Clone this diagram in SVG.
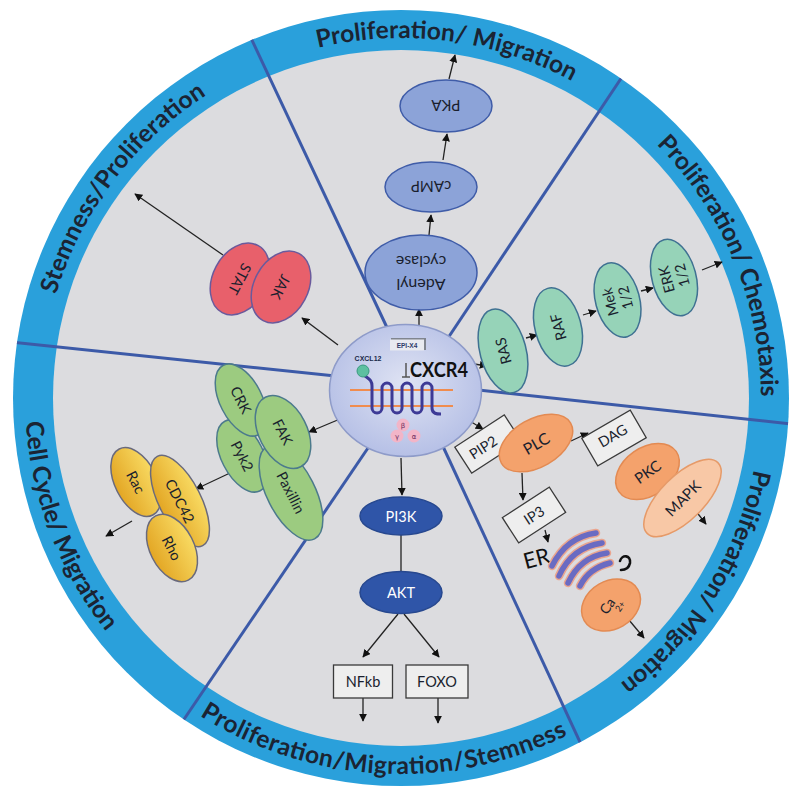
<svg xmlns="http://www.w3.org/2000/svg" width="800" height="794" viewBox="0 0 800 794">
<defs>
  <style>
    .ring-txt { font-family: Lato, "Open Sans", sans-serif; font-weight: 700; font-size: 24.5px; fill: #1b2433; }
    .lbl { font-family: Lato, "Open Sans", sans-serif; font-size: 14.5px; fill: #1a1f2e; text-anchor: middle; dominant-baseline: central; }
    .wl { fill: #ffffff; }
    .div { stroke: #3c5aa8; stroke-width: 3; fill: none; }
    .arr { stroke: #222; stroke-width: 1.3; fill: none; marker-end: url(#ah); }
    .ln { stroke: #222; stroke-width: 1.3; fill: none; }
    .blue { fill: #8ca3d8; stroke: #3f5ca8; stroke-width: 1.5; }
    .mint { fill: #96d3b8; stroke: #3f7192; stroke-width: 1.5; }
    .red { fill: #e8606b; stroke: #6a5a9c; stroke-width: 1.5; }
    .green { fill: #9ccb80; stroke: #4c7a8c; stroke-width: 1.5; }
    .yellow { fill: url(#yg); stroke: #6a6a7c; stroke-width: 1.5; }
    .navy { fill: #2f55a8; stroke: #27488f; stroke-width: 1.5; }
    .orange { fill: #f4a26c; stroke: #e38a52; stroke-width: 1.5; }
    .lorange { fill: #f8c8a6; stroke: #e69a68; stroke-width: 1.5; }
    .box { fill: #eeeeee; stroke: #3a3a3a; stroke-width: 1.3; }
    .er { fill: none; stroke: #6a6bc2; stroke-width: 5.5; stroke-linecap: round; }
    .erh { fill: none; stroke: #eaa58f; stroke-width: 8.5; stroke-linecap: round; }
  </style>
  <marker id="ah" viewBox="0 0 10 10" refX="9" refY="5" markerWidth="8" markerHeight="8" markerUnits="userSpaceOnUse" orient="auto">
    <path d="M0,0 L10,5 L0,10 z" fill="#111"/>
  </marker>
  <linearGradient id="yg" x1="0" y1="0" x2="0" y2="1">
    <stop offset="0" stop-color="#f8da62"/>
    <stop offset="1" stop-color="#e3a624"/>
  </linearGradient>
  <radialGradient id="cg" cx="0.5" cy="0.45" r="0.55">
    <stop offset="0" stop-color="#dfe3f3"/>
    <stop offset="1" stop-color="#b6c0e6"/>
  </radialGradient>
  <clipPath id="outer"><circle cx="401" cy="398" r="388"/></clipPath>
  <path id="p-top" d="M81.7,231.8 A360,360 0 0 1 752.5,320.1"/>
  <path id="p-ur" d="M385.3,38.3 A360,360 0 0 1 644.2,663.4"/>
  <path id="p-lr" d="M684.7,176.3 A360,360 0 0 1 326.2,750.1"/>
  <path id="p-ul" d="M99.1,594.1 A360,360 0 0 1 506.3,53.7"/>
  <path id="p-bot" d="M41.4,507.9 A376,376 0 0 0 747.1,544.9"/>
  <path id="p-ll" d="M154.3,114.2 A376,376 0 0 0 407.6,773.9"/>
</defs>

<g id="background">
  <circle cx="401" cy="398" r="388" fill="#2aa0db"/>
  <circle cx="401" cy="398" r="348" fill="#dcdcdf"/>
</g>

<g id="dividers" clip-path="url(#outer)">
  <line class="div" x1="235" y1="4" x2="390.5" y2="335"/>
  <line class="div" x1="642" y1="47" x2="445" y2="342.5"/>
  <line class="div" x1="810" y1="426" x2="465" y2="388.5"/>
  <line class="div" x1="592" y1="768" x2="440" y2="440"/>
  <line class="div" x1="172" y1="737" x2="370" y2="445"/>
  <line class="div" x1="0" y1="341" x2="345" y2="377"/>
</g>

<g id="ring-labels">
  <text class="ring-txt"><textPath href="#p-top" startOffset="50%" text-anchor="middle" textLength="262">Proliferation/ Migration</textPath></text>
  <text class="ring-txt"><textPath href="#p-ur" startOffset="50%" text-anchor="middle" textLength="280">Proliferation/ Chemotaxis</textPath></text>
  <text class="ring-txt"><textPath href="#p-lr" startOffset="50%" text-anchor="middle" textLength="258">Proliferation/ Migration</textPath></text>
  <text class="ring-txt"><textPath href="#p-ul" startOffset="50%" text-anchor="middle" textLength="255">Stemness/Proliferation</textPath></text>
  <text class="ring-txt"><textPath href="#p-bot" startOffset="50%" text-anchor="middle" textLength="385">Proliferation/Migration/Stemness</textPath></text>
  <text class="ring-txt"><textPath href="#p-ll" startOffset="50%" text-anchor="middle" textLength="228">Cell Cycle/ Migration</textPath></text>
</g>

<g id="connectors">
  <line class="arr" x1="419" y1="326" x2="419" y2="309"/>
  <line class="arr" x1="429" y1="235" x2="431" y2="215"/>
  <line class="arr" x1="443" y1="160" x2="447" y2="134"/>
  <line class="arr" x1="449" y1="79" x2="455" y2="55"/>
  <line class="arr" x1="474" y1="364" x2="487" y2="366"/>
  <line class="arr" x1="526" y1="338" x2="537" y2="335"/>
  <line class="arr" x1="583" y1="315" x2="596" y2="311"/>
  <line class="arr" x1="641" y1="291" x2="653" y2="288"/>
  <line class="arr" x1="702" y1="270" x2="722" y2="262"/>
  <line class="arr" x1="338" y1="345" x2="302" y2="318"/>
  <line class="arr" x1="223" y1="255" x2="135" y2="194"/>
  <line class="arr" x1="340" y1="419" x2="309" y2="432"/>
  <line class="arr" x1="230" y1="473" x2="196" y2="489"/>
  <line class="arr" x1="132" y1="521" x2="106" y2="536"/>
  <line class="arr" x1="401" y1="458" x2="402" y2="495"/>
  <line class="ln" x1="401" y1="535" x2="401" y2="572"/>
  <line class="arr" x1="398" y1="614" x2="363" y2="657"/>
  <line class="arr" x1="404" y1="614" x2="439" y2="657"/>
  <line class="arr" x1="363" y1="698" x2="363" y2="721"/>
  <line class="arr" x1="438" y1="698" x2="438" y2="723"/>
  <line class="arr" x1="468" y1="420" x2="483" y2="429"/>
  <line class="arr" x1="571" y1="441" x2="588" y2="433"/>
  <line class="arr" x1="627" y1="457" x2="637" y2="467"/>
  <line class="arr" x1="662" y1="482" x2="674" y2="494"/>
  <line class="arr" x1="695" y1="510" x2="706" y2="524"/>
  <line class="arr" x1="522" y1="473" x2="523" y2="500"/>
  <line class="arr" x1="545" y1="530" x2="548" y2="542"/>
  <line class="arr" x1="629" y1="620" x2="644" y2="638"/>
</g>

<g id="adenyl-cyclase" transform="translate(421,272.5) rotate(180)">
  <ellipse class="blue" rx="56" ry="37.5"/>
  <text class="lbl" style="font-size:16px" y="-13">Adenyl</text>
  <text class="lbl" style="font-size:16px" y="10">cyclase</text>
</g>
<g id="camp" transform="translate(431,187) rotate(180)">
  <ellipse class="blue" rx="46" ry="25"/>
  <text class="lbl" style="font-size:15px">cAMP</text>
</g>
<g id="pka" transform="translate(446,106) rotate(180)">
  <ellipse class="blue" rx="46" ry="26"/>
  <text class="lbl" style="font-size:15px">PKA</text>
</g>

<g id="ras" transform="translate(503,351) rotate(-105)">
  <ellipse class="mint" rx="43" ry="23"/>
  <text class="lbl">RAS</text>
</g>
<g id="raf" transform="translate(558,327) rotate(-105)">
  <ellipse class="mint" rx="40" ry="23"/>
  <text class="lbl">RAF</text>
</g>
<g id="mek" transform="translate(617.5,300) rotate(-105)">
  <ellipse class="mint" rx="38" ry="22"/>
  <text class="lbl" y="-8">Mek</text>
  <text class="lbl" y="8">1/2</text>
</g>
<g id="erk" transform="translate(674,277.5) rotate(-105)">
  <ellipse class="mint" rx="39" ry="22"/>
  <text class="lbl" y="-8">ERK</text>
  <text class="lbl" y="8">1/2</text>
</g>

<g id="stat" transform="translate(240,279) rotate(118)">
  <ellipse class="red" rx="38" ry="27"/>
  <text class="lbl">STAT</text>
</g>
<g id="jak" transform="translate(281,287) rotate(118)">
  <ellipse class="red" rx="38" ry="27"/>
  <text class="lbl">JAK</text>
</g>

<g id="pyk2" transform="translate(242.5,456) rotate(63)">
  <ellipse class="green" rx="39" ry="21"/>
  <text class="lbl">Pyk2</text>
</g>
<g id="crk" transform="translate(241,400) rotate(63)">
  <ellipse class="green" rx="39" ry="21"/>
  <text class="lbl">CRK</text>
</g>
<g id="paxillin" transform="translate(291,492.5) rotate(63)">
  <ellipse class="green" rx="52" ry="24"/>
  <text class="lbl">Paxillin</text>
</g>
<g id="fak" transform="translate(283,432) rotate(63)">
  <ellipse class="green" rx="39" ry="24"/>
  <text class="lbl">FAK</text>
</g>
<g id="rac" transform="translate(136,482) rotate(63)">
  <ellipse class="yellow" rx="37" ry="21"/>
  <text class="lbl">Rac</text>
</g>
<g id="cdc42" transform="translate(180,501) rotate(63)">
  <ellipse class="yellow" rx="50" ry="21"/>
  <text class="lbl">CDC42</text>
</g>
<g id="rho" transform="translate(172,548) rotate(63)">
  <ellipse class="yellow" rx="36" ry="22"/>
  <text class="lbl">Rho</text>
</g>

<g id="pi3k">
  <ellipse class="navy" cx="401" cy="516" rx="41" ry="19"/>
  <text class="lbl wl" x="401" y="516">PI3K</text>
</g>
<g id="akt">
  <ellipse class="navy" cx="401" cy="592.5" rx="41" ry="21"/>
  <text class="lbl wl" x="401" y="592.5">AKT</text>
</g>
<g id="nfkb">
  <rect class="box" x="333.5" y="665" width="59" height="33"/>
  <text class="lbl" x="363" y="681.5">NFkb</text>
</g>
<g id="foxo">
  <rect class="box" x="406" y="665" width="62" height="33"/>
  <text class="lbl" x="437" y="681.5">FOXO</text>
</g>

<g id="pip2" transform="translate(488,444) rotate(-33)">
  <rect class="box" x="-29.5" y="-15.5" width="59" height="31"/>
  <text class="lbl" x="-6">PIP2</text>
</g>
<g id="plc" transform="translate(536,443) rotate(-30)">
  <ellipse class="orange" rx="40" ry="24"/>
  <text class="lbl" style="font-size:16px">PLC</text>
</g>
<g id="dag" transform="translate(614,438) rotate(-30)">
  <rect class="box" x="-28" y="-16" width="56" height="32"/>
  <text class="lbl" y="-3">DAG</text>
</g>
<g id="pkc" transform="translate(647.5,471.5) rotate(-35)">
  <ellipse class="orange" rx="35" ry="24"/>
  <text class="lbl" style="font-size:15px">PKC</text>
</g>
<g id="mapk" transform="translate(682.5,498) rotate(-45)">
  <ellipse class="lorange" rx="50" ry="22"/>
  <text class="lbl" style="font-size:15px">MAPK</text>
</g>
<g id="ip3" transform="translate(534,515) rotate(-33)">
  <rect class="box" x="-28" y="-15" width="56" height="30"/>
  <text class="lbl">IP3</text>
</g>
<g id="er">
  <text x="537" y="566" transform="rotate(-15 537 560)" style="font-family:Lato,'Open Sans',sans-serif;font-size:22px;fill:#111;text-anchor:middle">ER</text>
  <path class="erh" d="M552,566 C561,548 575,536 596,533"/>
  <path class="erh" d="M559,576 C567,558 581,546 602,543"/>
  <path class="erh" d="M568,583 C575,568 588,556 607,553"/>
  <path class="erh" d="M580,586 C585,576 594,567 610,563"/>
  <path class="er" d="M552,566 C561,548 575,536 596,533"/>
  <path class="er" d="M559,576 C567,558 581,546 602,543"/>
  <path class="er" d="M568,583 C575,568 588,556 607,553"/>
  <path class="er" d="M580,586 C585,576 594,567 610,563"/>
  <path d="M620,561 C622,554 631,555 630,563 C629,568 625,570 621,570" fill="none" stroke="#111" stroke-width="2.6" stroke-linecap="round"/>
</g>
<g id="ca" transform="translate(611,605) rotate(-30)">
  <ellipse class="orange" rx="31" ry="24"/>
  <text class="lbl" style="font-size:14px" x="-3" y="-3" transform="rotate(-25)">Ca</text>
  <text class="lbl" style="font-size:9px" x="4" y="8" transform="rotate(-25)">2+</text>
</g>

<g id="cxcr4">
  <ellipse cx="405.5" cy="390.5" rx="76" ry="66" fill="url(#cg)" stroke="#8e9bc9" stroke-width="1.5"/>
  <path d="M391,339 H425 V350" fill="none" stroke="#80858f" stroke-width="2"/>
  <rect x="390" y="339.5" width="34" height="11" fill="#e8eaf0"/>
  <text x="407" y="347.5" style="font-family:'Liberation Sans',sans-serif;font-size:6.5px;font-weight:700;fill:#2c3a6a;text-anchor:middle">EPI-X4</text>
  <text x="368" y="361" style="font-family:'Liberation Sans',sans-serif;font-size:7px;font-weight:700;fill:#1a2a4a;text-anchor:middle">CXCL12</text>
  <line x1="350" y1="390" x2="453" y2="390" stroke="#f08c4e" stroke-width="2"/>
  <line x1="350" y1="406" x2="453" y2="406" stroke="#f08c4e" stroke-width="2"/>
  <path d="M365,376 C369,379 372,380 372,386 L372,408 A5,5 0 0 0 382,408 L382,388 A5,5 0 0 1 392,388 L392,408 A5,5 0 0 0 402,408 L402,388 A5,5 0 0 1 412,388 L412,408 A5,5 0 0 0 422,408 L422,388 A5,5 0 0 1 432,388 L432,408 C432,414 437,414 441,414" fill="none" stroke="#3d3a96" stroke-width="3"/>
  <circle cx="363" cy="371" r="6" fill="#5dc0a0" stroke="#3a9a80" stroke-width="1"/>
  <path d="M406,363 V377 M402,377 H410" stroke="#555" stroke-width="1.5" fill="none"/>
  <text x="439" y="377" textLength="58" lengthAdjust="spacingAndGlyphs" style="font-family:Lato,'Open Sans',sans-serif;font-size:20px;font-weight:700;fill:#111;text-anchor:middle">CXCR4</text>
  <circle cx="403" cy="425" r="6.5" fill="#f2b5c8"/>
  <circle cx="397" cy="436" r="6.5" fill="#f2b5c8"/>
  <circle cx="414" cy="436" r="6.5" fill="#f2b5c8"/>
  <text x="403" y="427.5" style="font-family:'DejaVu Sans',sans-serif;font-size:7px;fill:#6a2a5a;text-anchor:middle">β</text>
  <text x="397" y="438.5" style="font-family:'DejaVu Sans',sans-serif;font-size:7px;fill:#6a2a5a;text-anchor:middle">γ</text>
  <text x="414" y="438.5" style="font-family:'DejaVu Sans',sans-serif;font-size:7px;fill:#6a2a5a;text-anchor:middle">α</text>
</g>
</svg>
